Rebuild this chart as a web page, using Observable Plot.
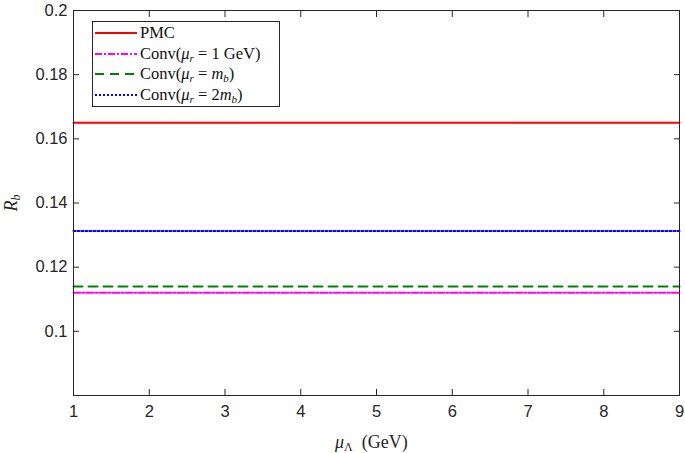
<!DOCTYPE html>
<html>
<head>
<meta charset="utf-8">
<script src="https://cdn.jsdelivr.net/npm/d3@7"></script>
<script src="https://cdn.jsdelivr.net/npm/@observablehq/plot@0.6"></script>
<style>
  body { margin: 0; background: #fff; }
  #wrap { position: relative; width: 685px; height: 453px; font-family: "Liberation Serif", serif; }
  #wrap > svg { position: absolute; left: 0; top: 0; }
  .lab { position: absolute; font-family: "Liberation Serif", serif; font-size: 18px; line-height: 1; color: #262626; white-space: nowrap; }
  .lab sub { font-size: 12px; vertical-align: -3px; line-height: 0; }
  #legend { position: absolute; left: 92px; top: 21px; width: 188px; height: 86px; border: 1px solid #262626; background: #fff; box-sizing: border-box; padding-top: 1px; }
  .row { height: 20.5px; display: flex; align-items: center; font-size: 16.5px; color: #111; white-space: nowrap; }
  .row svg { margin-left: 2px; margin-right: 3px; }
  .row sub { font-size: 11px; vertical-align: -3px; line-height: 0; }
</style>
</head>
<body>
<div id="wrap"></div>
<script>
const muLambda = [1, 2, 3, 4, 5, 6, 7, 8, 9];
const seriesNames = ["PMC", "Conv(mu_r = 1 GeV)", "Conv(mu_r = m_b)", "Conv(mu_r = 2m_b)"];
const seriesValues = [0.165, 0.112, 0.114, 0.1313];
const seriesColors = ["#ff0000", "#ff00ff", "#008000", "#0000ff"];
const seriesDash = [null, "7,2,2,2", "9,6", "2,2"];
const legendHTML = [
  "PMC",
  "Conv(<i>μ<sub>r</sub></i> = 1 GeV)",
  "Conv(<i>μ<sub>r</sub></i> = <i>m<sub>b</sub></i>)",
  "Conv(<i>μ<sub>r</sub></i> = 2<i>m<sub>b</sub></i>)"
];
const xTicks = [1, 2, 3, 4, 5, 6, 7, 8, 9];
const yTicks = [0.1, 0.12, 0.14, 0.16, 0.18, 0.2];
const yDomain = [0.08, 0.2];

const data = seriesNames.map((name, i) => muLambda.map(x => ({x, y: seriesValues[i], name})));

const fmt = d => String(+d.toFixed(2));
const tickFont = "Liberation Sans, Arial, sans-serif";

const chart = Plot.plot({
  width: 685,
  height: 453,
  marginLeft: 73,
  marginRight: 6,
  marginTop: 10,
  marginBottom: 58,
  style: {background: "#fff", color: "#262626"},
  x: {domain: [1, 9]},
  y: {domain: yDomain},
  marks: [
    ...data.map((d, i) => Plot.lineY(d, {
      x: "x", y: "y",
      stroke: seriesColors[i],
      strokeWidth: 2,
      strokeDasharray: seriesDash[i] || undefined
    })),
    Plot.frame({stroke: "#262626", strokeWidth: 1}),
    Plot.axisX({ticks: xTicks, tickSize: -6, tickPadding: 16, tickFormat: d => String(d), label: null, fontSize: 16.5, fontFamily: tickFont, stroke: "#262626"}),
    Plot.axisX({anchor: "top", ticks: xTicks, tickSize: -6, tickFormat: () => "", label: null, stroke: "#262626"}),
    Plot.axisY({ticks: yTicks, tickSize: -6, tickPadding: 12, tickFormat: fmt, label: null, fontSize: 16.5, fontFamily: tickFont, stroke: "#262626"}),
    Plot.axisY({anchor: "right", ticks: yTicks, tickSize: -6, tickFormat: () => "", label: null, stroke: "#262626"})
  ]
});

const wrap = document.getElementById("wrap");
wrap.appendChild(chart);

const xl = document.createElement("div");
xl.className = "lab";
xl.innerHTML = "<i>μ</i><sub>Λ</sub>&nbsp; (GeV)";
xl.style.left = "335px";
xl.style.top = "433px";
wrap.appendChild(xl);

const yl = document.createElement("div");
yl.className = "lab";
yl.innerHTML = "<i>R<sub>b</sub></i>";
yl.style.left = "2px";
yl.style.top = "194px";
yl.style.transform = "rotate(-90deg)";
wrap.appendChild(yl);

const leg = document.createElement("div");
leg.id = "legend";
seriesNames.forEach((n, i) => {
  const row = document.createElement("div");
  row.className = "row";
  const dash = seriesDash[i] ? `stroke-dasharray="${seriesDash[i]}"` : "";
  row.innerHTML = `<svg width="42" height="10"><line x1="0" y1="5" x2="42" y2="5" stroke="${seriesColors[i]}" stroke-width="2" ${dash}/></svg><span>${legendHTML[i]}</span>`;
  leg.appendChild(row);
});
wrap.appendChild(leg);
</script>
</body>
</html>
